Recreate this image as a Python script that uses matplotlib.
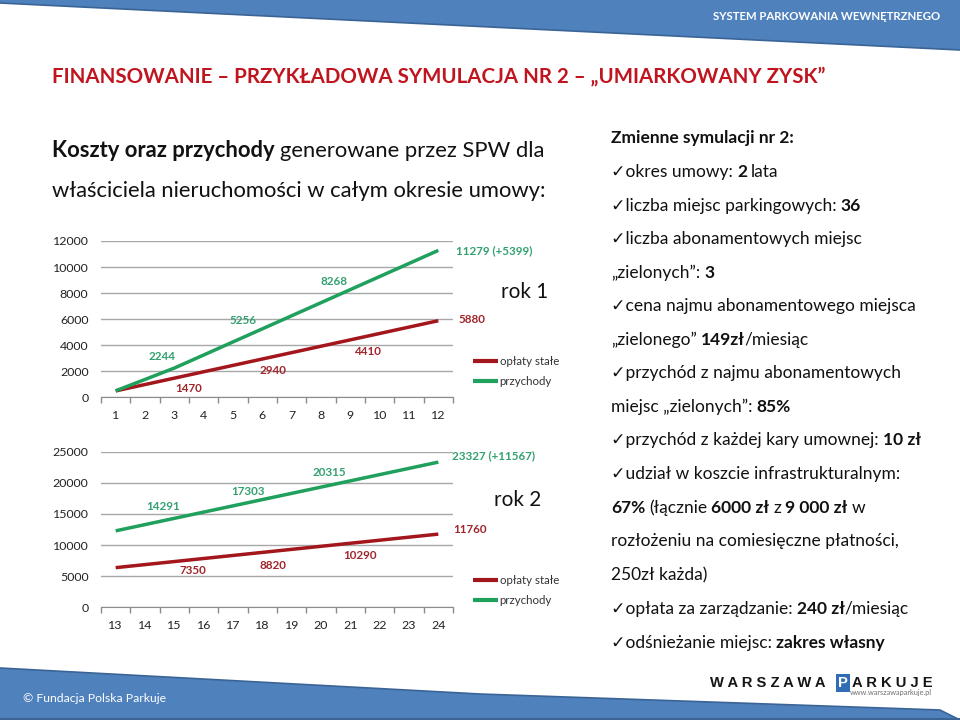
import matplotlib
matplotlib.use("Agg")
import matplotlib.pyplot as plt
from matplotlib import font_manager
from matplotlib.patches import Polygon

# ---------------- data ----------------
months_y1 = [1, 2, 3, 4, 5, 6, 7, 8, 9, 10, 11, 12]
fixed_y1 = [490, 980, 1470, 1960, 2450, 2940, 3430, 3920, 4410, 4900, 5390, 5880]
income_y1 = [500, 1370, 2244, 3248, 4252, 5256, 6260, 7264, 8268, 9272, 10275, 11279]
months_y2 = [13, 14, 15, 16, 17, 18, 19, 20, 21, 22, 23, 24]
fixed_y2 = [6370, 6860, 7350, 7840, 8330, 8820, 9310, 9800, 10290, 10780, 11270, 11760]
income_y2 = [12283, 13287, 14291, 15295, 16299, 17303, 18307, 19311, 20315, 21319, 22323, 23327]
labeled_y1 = [3, 6, 9, 12]
labeled_y2 = [15, 18, 21, 24]
profit_y1 = "(+5399)"
profit_y2 = "(+11567)"
series_names = ["opłaty stałe", "przychody"]
yticks_y1 = [0, 2000, 4000, 6000, 8000, 10000, 12000]
yticks_y2 = [0, 5000, 10000, 15000, 20000, 25000]

# ---------------- style ----------------
names = {f.name for f in font_manager.fontManager.ttflist}
BODY = "Lato" if "Lato" in names else "DejaVu Sans"
FAM = [BODY, "DejaVu Sans"]
LOGO = ["Liberation Sans", "DejaVu Sans"] if "Liberation Sans" in names else ["DejaVu Sans"]
BLUE = "#4F81BD"
BLUE_DK = "#3B6496"
RED_LINE = "#A3161C"
GREEN_LINE = "#1FA05C"
RED_TXT = "#A0262C"
GREEN_TXT = "#33A070"
TITLE_RED = "#C0151E"

fig = plt.figure(figsize=(9.6, 7.2), dpi=100)
bg = fig.add_axes([0, 0, 1, 1])
bg.set_xlim(0, 960)
bg.set_ylim(720, 0)
bg.axis("off")
R = fig.canvas.get_renderer()


def fitted(s, weight, target, fam=FAM):
    t = bg.text(0, 0, s, fontsize=20, family=fam, fontweight=weight)
    w = t.get_window_extent(R).width
    t.remove()
    return 20.0 * target / w


def rich(x, y, segs, size, color, fam=FAM):
    prev = None
    for s, b in segs:
        gap = 0.0
        if s.startswith(" "):
            gap = size * 0.23
            s = s.lstrip()
        kw = dict(fontsize=size, fontweight="bold" if b else "normal",
                  color=color, family=fam)
        if prev is None:
            prev = bg.text(x, y, s, ha="left", va="baseline", **kw)
        else:
            prev = bg.annotate(s, xy=(1, 0), xycoords=prev, xytext=(gap, 0),
                               textcoords="offset points", ha="left",
                               va="bottom", **kw)
    return prev


# ---------------- bands ----------------
bg.add_patch(Polygon([(0, 0), (960, 0), (960, 50), (0, 3)], closed=True,
                     facecolor=BLUE, edgecolor="none", zorder=1))
bg.plot([0, 960], [3, 50], color=BLUE_DK, lw=1.2, zorder=2)
bg.add_patch(Polygon([(0, 668), (480, 694), (940, 710), (960, 720), (0, 720)],
                     closed=True, facecolor=BLUE, edgecolor="none", zorder=1))
bg.plot([0, 480, 940, 960], [668, 694, 710, 720], color=BLUE_DK, lw=1.2, zorder=2)
bg.plot([0, 960], [719, 719], color=BLUE_DK, lw=1.5, zorder=2)

s = fitted("SYSTEM PARKOWANIA WEWNĘTRZNEGO", "bold", 228)
bg.text(940, 16, "SYSTEM PARKOWANIA WEWNĘTRZNEGO", ha="right", va="center",
        fontsize=s, fontweight="bold", color="white", family=FAM, zorder=3)

s = fitted("© Fundacja Polska Parkuje", "normal", 143)
bg.text(23, 698, "© Fundacja Polska Parkuje", ha="left", va="center",
        fontsize=s, color="white", family=FAM, zorder=3)

# logo
s = fitted("W A R S Z A W A", "bold", 115, fam=LOGO)
bg.text(710, 683, "W A R S Z A W A", ha="left", va="center", fontsize=s,
        fontweight="bold", color="#151515", family=LOGO)
bg.text(843, 683, "P", ha="center", va="center", fontsize=s,
        fontweight="bold", color="white", family=LOGO,
        bbox=dict(boxstyle="square,pad=0.12", facecolor="#2F6DB5", edgecolor="none"))
bg.text(852, 683, "A R K U J E", ha="left", va="center", fontsize=s,
        fontweight="bold", color="#151515", family=LOGO)
s = fitted("www.warszawaparkuje.pl", "normal", 82)
bg.text(932, 693, "www.warszawaparkuje.pl", ha="right", va="center",
        fontsize=s, color="#707070", family=FAM)

# ---------------- titles ----------------
title = "FINANSOWANIE – PRZYKŁADOWA SYMULACJA NR 2 – „UMIARKOWANY ZYSK”"
s = fitted(title, "bold", 776)
bg.text(52, 77, title, ha="left", va="center", fontsize=s, fontweight="bold",
        color=TITLE_RED, family=FAM)

s_sub = fitted("właściciela nieruchomości w całym okresie umowy:", "normal", 496)
rich(52, 157, [("Koszty oraz przychody", True),
               (" generowane przez SPW dla", False)], s_sub, "#111111")
rich(52, 197, [("właściciela nieruchomości w całym okresie umowy:", False)],
     s_sub, "#111111")

# ---------------- right column ----------------
s_r = fitted("✓cena najmu abonamentowego miejsca", "normal", 305)
s_h = fitted("Zmienne symulacji nr 2:", "bold", 183)
bg.text(611, 143, "Zmienne symulacji nr 2:", ha="left", va="baseline",
        fontsize=s_h, fontweight="bold", color="#111111", family=FAM)

lines = [
    (172, [("✓okres umowy:", False), (" 2", True), (" lata", False)]),
    (206, [("✓liczba miejsc parkingowych:", False), (" 36", True)]),
    (239, [("✓liczba abonamentowych miejsc", False)]),
    (273, [("„zielonych”:", False), (" 3", True)]),
    (306, [("✓cena najmu abonamentowego miejsca", False)]),
    (340, [("„zielonego”", False), (" 149zł", True), ("/miesiąc", False)]),
    (373, [("✓przychód z najmu abonamentowych", False)]),
    (407, [("miejsc „zielonych”:", False), (" 85%", True)]),
    (440, [("✓przychód z każdej kary umownej:", False), (" 10 zł", True)]),
    (474, [("✓udział w koszcie infrastrukturalnym:", False)]),
    (508, [("67%", True), (" (łącznie", False), (" 6000 zł", True), (" z", False),
           (" 9 000 zł", True), (" w", False)]),
    (541, [("rozłożeniu na comiesięczne płatności,", False)]),
    (575, [("250zł każda)", False)]),
    (609, [("✓opłata za zarządzanie:", False), (" 240 zł", True), ("/miesiąc", False)]),
    (643, [("✓odśnieżanie miejsc:", False), (" zakres własny", True)]),
]
for yc, segs in lines:
    rich(611, yc + 5, segs, s_r, "#111111")

# ---------------- charts ----------------
s_tick = fitted("12000", "normal", 36)
s_lab = fitted("5880", "bold", 27)
s_leg = fitted("opłaty stałe", "normal", 60)
s_rok = fitted("rok 1", "normal", 47)
PX = 0.72  # pixels -> points


def chart(rect, months, fixed, income, yticks, labeled, red_off, green_off,
          profit, leg_y):
    ax = fig.add_axes(rect)
    ax.patch.set_alpha(0)
    ax.plot(months, fixed, color=RED_LINE, lw=2.5, label=series_names[0],
            solid_capstyle="butt", zorder=3)
    ax.plot(months, income, color=GREEN_LINE, lw=2.5, label=series_names[1],
            solid_capstyle="butt", zorder=3)
    ax.set_xlim(months[0] - 0.5, months[-1] + 0.5)
    ax.set_ylim(yticks[0], yticks[-1])
    ax.set_yticks(yticks)
    ax.set_yticklabels([str(v) for v in yticks])
    ax.set_xticks(months)
    ax.set_xticks([m - 0.5 for m in months] + [months[-1] + 0.5], minor=True)
    ax.tick_params(axis="x", which="major", length=0, pad=9,
                   labelsize=s_tick, labelcolor="#222222")
    ax.tick_params(axis="x", which="minor", length=4, width=1,
                   color="#8C8C8C", direction="out")
    ax.tick_params(axis="y", length=0, pad=9, labelsize=s_tick,
                   labelcolor="#222222")
    for lab in ax.get_xticklabels() + ax.get_yticklabels():
        lab.set_family(FAM)
    ax.grid(axis="y", color="#A8A8A8", lw=1)
    ax.grid(axis="x", visible=False)
    ax.set_axisbelow(True)
    for sp in ["top", "right", "left"]:
        ax.spines[sp].set_visible(False)
    ax.spines["bottom"].set_color("#8C8C8C")

    for i, m in enumerate(labeled):
        k = months.index(m)
        last = i == len(labeled) - 1
        dx, dy = red_off[i]
        ax.annotate(str(fixed[k]), xy=(m, fixed[k]), xytext=(dx * PX, dy * PX),
                    textcoords="offset points", ha="left" if last else "center",
                    va="center", fontsize=s_lab, fontweight="bold",
                    color=RED_TXT, family=FAM, annotation_clip=False)
        dx, dy = green_off[i]
        txt = f"{income[k]} {profit}" if last else str(income[k])
        ax.annotate(txt, xy=(m, income[k]), xytext=(dx * PX, dy * PX),
                    textcoords="offset points", ha="left" if last else "center",
                    va="center", fontsize=s_lab, fontweight="bold",
                    color=GREEN_TXT, family=FAM, annotation_clip=False)

    leg = ax.legend(loc="center left", bbox_to_anchor=(1.057, leg_y),
                    frameon=False, borderpad=0, borderaxespad=0,
                    handlelength=2.15, handletextpad=0.15, labelspacing=0.75,
                    prop=dict(family=FAM, size=s_leg))
    for t in leg.get_texts():
        t.set_color("#333333")
    for h in leg.legend_handles:
        h.set_linewidth(3)
    return ax


chart([101 / 960, 1 - 397.3 / 720, 352 / 960, 156.3 / 720],
      months_y1, fixed_y1, income_y1, yticks_y1, labeled_y1,
      red_off=[(14, -10), (11, -11.5), (18, -12), (20, 1.5)],
      green_off=[(-12.5, 12), (-19, 8), (-16, 8), (18, 0)],
      profit=profit_y1, leg_y=0.165)

chart([101 / 960, 1 - 607.3 / 720, 352 / 960, 155.6 / 720],
      months_y2, fixed_y2, income_y2, yticks_y2, labeled_y2,
      red_off=[(19, -8.5), (11, -13.5), (10, -12.5), (15, 4.8)],
      green_off=[(-11, 11.5), (-14, 8.5), (-21, 8), (14, 6.4)],
      profit=profit_y2, leg_y=0.109)

bg.text(525, 292, "rok 1", ha="center", va="center", fontsize=s_rok,
        color="#111111", family=FAM)
bg.text(518, 500, "rok 2", ha="center", va="center", fontsize=s_rok,
        color="#111111", family=FAM)

fig.savefig("out.png", dpi=100)
